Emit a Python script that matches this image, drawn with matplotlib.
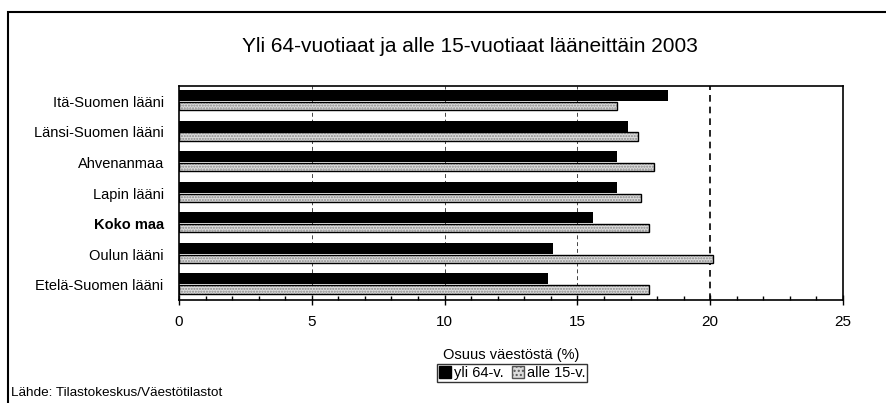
import matplotlib
matplotlib.use("Agg")
import matplotlib.pyplot as plt
import numpy as np
from matplotlib.patches import Rectangle, Patch

# ── Data ──────────────────────────────────────────────────────────────────
regions = ["Itä-Suomen lääni", "Länsi-Suomen lääni", "Ahvenanmaa", "Lapin lääni",
           "Koko maa", "Oulun lääni", "Etelä-Suomen lääni"]
over_64  = [18.4, 16.9, 16.5, 16.5, 15.6, 14.1, 13.9]
under_15 = [16.5, 17.3, 17.9, 17.4, 17.7, 20.1, 17.7]

TITLE  = "Yli 64-vuotiaat ja alle 15-vuotiaat lääneittäin 2003"
XLABEL = "Osuus väestöstä (%)"
SOURCE = "Lähde: Tilastokeskus/Väestötilastot"

plt.rcParams["font.family"] = ["Liberation Sans", "DejaVu Sans"]

fig = plt.figure(figsize=(8.86, 4.03), dpi=100)
ax = fig.add_axes([179 / 886, 1 - 300 / 403, (843 - 179) / 886, (300 - 86) / 403])

y = np.arange(len(regions))
h_black, h_pat = 0.36, 0.27

# gridlines behind bars (only the 20 % line reads strongly in the scan)
for gx in [5, 10, 15]:
    ax.axvline(gx, color="#444444", lw=0.7, ls=(0, (4, 3)), zorder=0)
ax.axvline(20, color="black", lw=1.2, ls=(0, (4, 3)), zorder=0)

ax.barh(y - 0.01 - h_black / 2, over_64, height=h_black, color="black", zorder=2)
ax.barh(y + 0.02 + h_pat / 2, under_15, height=h_pat, color="#dcdcdc",
        hatch="......", edgecolor="#8a8a8a", lw=0, zorder=2)
ax.barh(y + 0.02 + h_pat / 2, under_15, height=h_pat, fill=False,
        edgecolor="black", lw=1.0, zorder=3)

ax.set_xlim(0, 25)
ax.set_ylim(len(regions) - 0.5, -0.5)
ax.set_xticks([0, 5, 10, 15, 20, 25])
ax.set_xticks(np.arange(0, 26, 1), minor=True)
ax.tick_params(axis="x", which="major", direction="inout", length=7, width=1,
               labelsize=11, pad=7)
ax.tick_params(axis="x", which="minor", direction="in", length=3, width=1)
ax.set_yticks(y)
ax.set_yticklabels(regions, fontsize=10.5)
ax.tick_params(axis="y", length=0, pad=11)
ax.get_yticklabels()[regions.index("Koko maa")].set_fontweight("bold")
for s in ax.spines.values():
    s.set_linewidth(1.2)

ax.set_xlabel(XLABEL, fontsize=10.5, labelpad=14)
fig.text(0.53, 1 - 47 / 403, TITLE, ha="center", va="center", fontsize=15)
fig.text(11 / 886, 1 - 393 / 403, SOURCE, ha="left", va="center", fontsize=9.7)

handles = [Patch(facecolor="black", edgecolor="black", label="yli 64-v."),
           Patch(facecolor="#dcdcdc", hatch="....", edgecolor="#555555", label="alle 15-v.")]
leg = fig.legend(handles=handles, loc="center", bbox_to_anchor=(512 / 886, 1 - 373 / 403),
                 ncol=2, fontsize=10.5, frameon=True, fancybox=False, edgecolor="black",
                 handlelength=0.8, handleheight=0.8, handletextpad=0.2, columnspacing=0.6,
                 borderpad=0.15, borderaxespad=0)
leg.get_frame().set_linewidth(1.0)

# outer chart border
fig.patches.append(Rectangle((8 / 886, -0.02), 1.0, 1 - 12 / 403 + 0.02,
                             transform=fig.transFigure, fill=False,
                             edgecolor="black", lw=1.5))

fig.savefig("out.png", dpi=100)
